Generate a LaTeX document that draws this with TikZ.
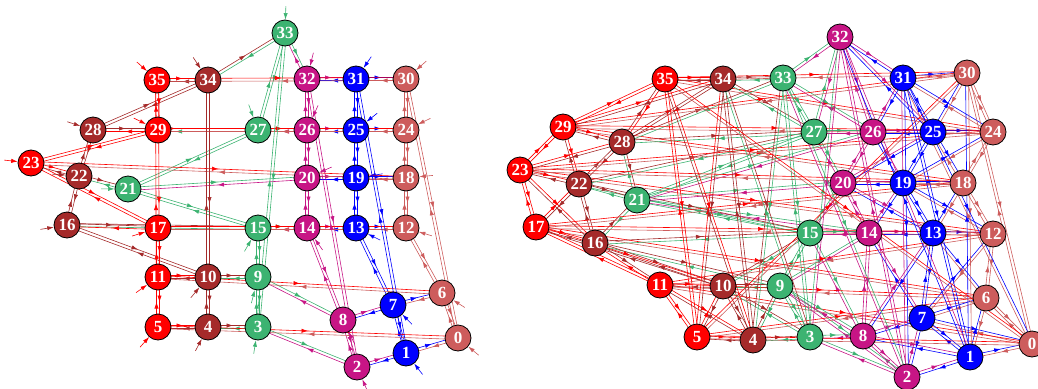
\documentclass[tikz,border=0pt]{standalone}
\usepackage{fontspec}
\setmainfont{Liberation Serif}
\usetikzlibrary{calc,arrows.meta,decorations.markings,backgrounds}
\definecolor{col0}{RGB}{205,92,92}
\definecolor{col1}{RGB}{0,0,255}
\definecolor{col2}{RGB}{199,21,133}
\definecolor{col3}{RGB}{60,179,113}
\definecolor{col4}{RGB}{165,42,42}
\definecolor{col5}{RGB}{255,0,0}
\tikzset{
  vtx/.style = {circle, draw = black, line width = 0.8pt, minimum size = 26pt, inner sep = 0pt,
    text = white, font = \fontsize{17}{17}\selectfont\bfseries},
  dline/.style = {line width = 0.6pt, postaction = {decorate},
    decoration = {markings, mark = at position 0.5 with {\arrow{Latex[length = 6.5pt, width = 4.2pt]}}}},
  stub/.style = {line width = 0.6pt, -{Latex[length = 6.5pt, width = 4.2pt]}}
}
% one directed line, offset to the left of its direction, coloured as its source
\newcommand{\dirline}[3]{%
  \pgfmathtruncatemacro\srccol{mod(#2,6)}%
  \draw[dline, col\srccol] ($(#1#2)!1.5pt!90:(#1#3)$) -- ($(#1#3)!1.5pt!-90:(#1#2)$);}
\begin{document}
\begin{tikzpicture}[x = 1pt, y = -1pt]
\useasboundingbox (0, 0) rectangle (1038, 388);
% left layout
\foreach \i/\x/\y in {0/458/338, 1/406/353, 2/357/367, 3/258/327, 4/208/327, 5/158/327,
  6/442/293, 7/393/305, 8/343/320, 9/258/277, 10/208/277, 11/158/277,
  12/406/228, 13/356/228, 14/307/228, 15/258/228, 16/67/225, 17/158/228,
  18/406/178, 19/356/178, 20/307/178, 21/128/189, 22/79/176, 23/31/163,
  24/406/130, 25/356/130, 26/307/130, 27/258/130, 28/93/130, 29/158/130,
  30/406/79, 31/356/79, 32/307/79, 33/285/33, 34/208/80, 35/157/80}{
  \pgfmathtruncatemacro\coli{mod(\i,6)}
  \node[vtx, fill = col\coli] (L\i) at (\x, \y) {\i};
}
\coordinate (ctrL) at (280, 190);
% right layout
\foreach \i/\x/\y in {0/1032/344, 1/970/357, 2/907/377, 3/810/337, 4/753/340, 5/697/337,
  6/986/298, 7/922/318, 8/863/336, 9/780/286, 10/723/286, 11/660/285,
  12/993/234, 13/933/233, 14/869/233, 15/810/233, 16/595/243, 17/536/227,
  18/963/183, 19/903/183, 20/843/183, 21/637/200, 22/579/184, 23/520/170,
  24/993/132, 25/933/132, 26/873/132, 27/814/132, 28/622/142, 29/563/127,
  30/967/73, 31/903/78, 32/840/37, 33/783/78, 34/723/79, 35/665/79}{
  \pgfmathtruncatemacro\coli{mod(\i,6)}
  \node[vtx, fill = col\coli] (R\i) at (\x, \y) {\i};
}
\begin{scope}[on background layer]
\foreach \i in {0,...,35}{
  \pgfmathtruncatemacro\rowi{div(\i,6)}
  \pgfmathtruncatemacro\coli{mod(\i,6)}
  \pgfmathtruncatemacro\nbr{\rowi*6+mod(\coli+1,6)}
  \pgfmathtruncatemacro\nbd{mod(\rowi+1,6)*6+\coli}
  \pgfmathtruncatemacro\nbp{mod(\rowi+1,6)*6+mod(\coli+1,6)}
  \pgfmathtruncatemacro\nbm{mod(\rowi+1,6)*6+mod(\coli+5,6)}
  % torus grid on the left
  \dirline{L}{\i}{\nbr}\dirline{L}{\nbr}{\i}
  \dirline{L}{\i}{\nbd}\dirline{L}{\nbd}{\i}
  \draw[stub, col\coli] ($(L\i)!-27pt!(ctrL)$) -- (L\i);
  % torus with diagonals on the right
  \dirline{R}{\i}{\nbr}\dirline{R}{\nbr}{\i}
  \dirline{R}{\i}{\nbd}\dirline{R}{\nbd}{\i}
  \dirline{R}{\i}{\nbp}\dirline{R}{\nbp}{\i}
  \dirline{R}{\i}{\nbm}\dirline{R}{\nbm}{\i}
}
\end{scope}
\end{tikzpicture}
\end{document}
